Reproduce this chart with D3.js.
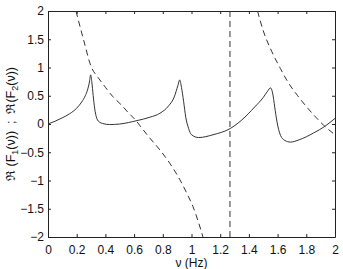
<!DOCTYPE html>
<html>
<head>
<meta charset="utf-8">
<script src="https://cdn.jsdelivr.net/npm/d3@7"></script>
<style>
  body { margin: 0; background: #fff; }
  text { font-family: "Liberation Sans", Arial, sans-serif; }
</style>
</head>
<body>
<div class="box"></div>
<script>
// frequences (Hz) et partie reelle de F1 (trait plein)
const nuF1 = [0, 0.05, 0.1, 0.15, 0.2, 0.235, 0.26, 0.275, 0.29, 0.297, 0.305, 0.315, 0.325, 0.34, 0.36, 0.38, 0.43, 0.5, 0.62, 0.71, 0.78, 0.84, 0.88, 0.905, 0.918, 0.93, 0.945, 0.96, 0.98, 1.0, 1.05, 1.15, 1.27, 1.35, 1.44, 1.5, 1.53, 1.55, 1.565, 1.58, 1.595, 1.62, 1.65, 1.69, 1.75, 1.85, 1.93, 2.0]
const reF1 = [0, 0.05, 0.11, 0.18, 0.28, 0.39, 0.5, 0.6, 0.76, 0.87, 0.75, 0.5, 0.28, 0.1, 0.03, 0.01, -0.01, 0, 0.06, 0.12, 0.19, 0.32, 0.48, 0.68, 0.78, 0.65, 0.4, 0.12, -0.08, -0.19, -0.24, -0.19, -0.08, 0.07, 0.3, 0.47, 0.58, 0.64, 0.55, 0.3, 0.05, -0.2, -0.29, -0.32, -0.28, -0.16, -0.04, 0.1]

// partie reelle de F2 (tirets), null = coupure
const nuF2 = [0.195, 0.25, 0.3, 0.35, 0.4, 0.45, 0.51, 0.56, 0.61, 0.65, 0.7, 0.78, 0.85, 0.92, 0.97, 1.01, 1.05, 1.08, null, 1.268, 1.268, null, 1.46, 1.5, 1.56, 1.62, 1.67, 1.74, 1.81, 1.87, 1.92, 2.0]
const reF2 = [2.0, 1.47, 1.02, 0.82, 0.65, 0.49, 0.34, 0.2, 0.07, -0.06, -0.22, -0.46, -0.7, -0.99, -1.24, -1.46, -1.75, -2.0, null, -2.0, 2.0, null, 2.0, 1.65, 1.28, 0.98, 0.75, 0.5, 0.28, 0.11, -0.02, -0.19]

const xTicks = [0, 0.2, 0.4, 0.6, 0.8, 1, 1.2, 1.4, 1.6, 1.8, 2]
const yTicks = [-2, -1.5, -1, -0.5, 0, 0.5, 1, 1.5, 2]

const width = 343
const height = 269
const margin = {top: 11, right: 8, bottom: 32, left: 48}
const graphWidth = width - margin.left - margin.right
const graphHeight = height - margin.top - margin.bottom

const svg = d3.select('.box')
  .append('svg')
  .attr('width', width)
  .attr('height', height)
  .style('background-color', '#fff')

const graph = svg.append('g')
  .attr('transform', `translate(${margin.left}, ${margin.top})`)

const x = d3.scaleLinear().domain([0, 2]).range([0, graphWidth])
const y = d3.scaleLinear().domain([-2, 2]).range([graphHeight, 0])

const fmt = d => (d < 0 ? '\u2212' : '') + Math.abs(d)

graph.append('clipPath').attr('id', 'clip')
  .append('rect').attr('width', graphWidth).attr('height', graphHeight)

// axes : ticks vers l'interieur sur les quatre cotes
const axes = [
  [d3.axisBottom(x).tickValues(xTicks).tickFormat(fmt).tickPadding(8), `translate(0, ${graphHeight})`],
  [d3.axisLeft(y).tickValues(yTicks).tickFormat(fmt).tickPadding(4), null],
  [d3.axisTop(x).tickValues(xTicks).tickFormat(''), null],
  [d3.axisRight(y).tickValues(yTicks).tickFormat(''), `translate(${graphWidth}, 0)`]
]
axes.forEach(([axe, tr]) => {
  const g = graph.append('g')
  if (tr) g.attr('transform', tr)
  g.call(axe.tickSizeInner(-3).tickSizeOuter(0))
  g.select('.domain').attr('stroke', '#222')
  g.selectAll('.tick line').attr('stroke', '#222')
  g.selectAll('text').style('font-size', '12px').attr('fill', '#111')
})

const plot = graph.append('g').attr('clip-path', 'url(#clip)')

const line = d3.line()
  .defined(d => d[0] !== null)
  .x(d => x(d[0]))
  .y(d => y(d[1]))
  .curve(d3.curveMonotoneX)

plot.append('path')
  .datum(nuF1.map((n, i) => [n, reF1[i]]))
  .attr('fill', 'none')
  .attr('stroke', '#333')
  .attr('stroke-width', 1)
  .attr('d', line)

plot.append('path')
  .datum(nuF2.map((n, i) => [n, reF2[i]]))
  .attr('fill', 'none')
  .attr('stroke', '#333')
  .attr('stroke-width', 1)
  .attr('stroke-dasharray', '6,4')
  .attr('d', line)

// titres des axes
svg.append('text')
  .attr('x', margin.left + x(1))
  .attr('y', 267)
  .attr('text-anchor', 'middle')
  .style('font-size', '12px')
  .attr('fill', '#111')
  .text('\u03bd (Hz)')

const yl = svg.append('text')
  .attr('transform', `translate(15, ${margin.top + graphHeight / 2}) rotate(-90)`)
  .attr('text-anchor', 'middle')
  .style('font-size', '12.5px')
  .style('white-space', 'pre')
  .attr('fill', '#111')
yl.append('tspan').text('\u211c (F')
yl.append('tspan').attr('dy', 3).style('font-size', '9px').text('1')
yl.append('tspan').attr('dy', -3).text('(\u03bd))  ;  \u211c(F')
yl.append('tspan').attr('dy', 3).style('font-size', '9px').text('2')
yl.append('tspan').attr('dy', -3).text('(\u03bd))')
</script>
</body>
</html>
